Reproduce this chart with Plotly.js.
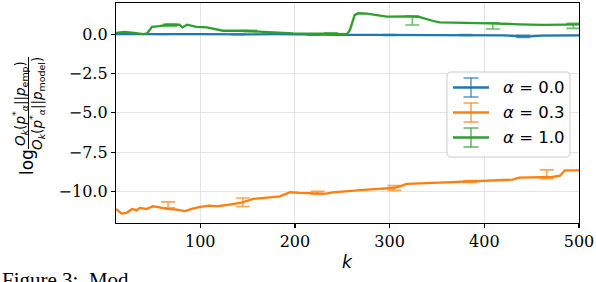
<!DOCTYPE html>
<html>
<head>
<meta charset="utf-8">
<script src="https://cdn.plot.ly/plotly-3.0.1.min.js"></script>
<style>html,body{margin:0;padding:0;background:#fff}#chart{width:596px;height:282px}</style>
</head>
<body>
<div id="chart"></div>
<script>
// ---- data ----
const kBlue = [11, 30, 50, 75, 100, 130, 150, 180, 200, 230, 250, 280, 300, 330, 350, 380, 400, 420, 437, 448, 460, 480, 500];
const blue  = [0.0, 0.01, 0.0, -0.01, -0.01, -0.03, -0.02, -0.01, -0.03, -0.04, -0.05, -0.05, -0.06, -0.05, -0.06, -0.06, -0.07, -0.08, -0.14, -0.15, -0.1, -0.07, -0.08];

const kOrange = [11, 17, 22, 28, 33, 36, 43, 50, 57, 65, 75, 84, 91, 100, 110, 117, 131, 142, 156, 170, 184, 195, 205, 233, 240, 276, 304, 311, 318, 346, 381, 430, 437, 472, 480, 485, 500];
const orange  = [-11.1, -11.39, -11.35, -11.1, -11.18, -11.03, -11.1, -10.93, -11.0, -11.1, -11.14, -11.24, -11.1, -10.97, -10.89, -10.93, -10.82, -10.72, -10.46, -10.40, -10.30, -10.04, -10.08, -10.13, -10.04, -9.87, -9.77, -9.66, -9.51, -9.45, -9.35, -9.24, -9.11, -9.07, -8.99, -8.65, -8.65];

const kGreen = [11, 20, 30, 40, 44, 49, 57, 65, 78, 81, 86, 96, 107, 117, 124, 145, 160, 174, 198, 230, 255, 258, 263, 267, 276, 297, 321, 332, 342, 349, 353, 385, 406, 437, 462, 487, 500];
const green  = [0.08, 0.13, 0.08, 0.0, 0.05, 0.46, 0.5, 0.59, 0.59, 0.42, 0.59, 0.46, 0.42, 0.30, 0.21, 0.21, 0.17, 0.13, 0.04, 0.02, 0.0, 0.25, 1.2, 1.32, 1.3, 1.1, 1.12, 1.08, 0.89, 0.78, 0.74, 0.73, 0.68, 0.62, 0.58, 0.6, 0.62];

// sparse error bars: position, centre, half-width
const errKBlue = [60, 140, 220, 300, 380, 441];
const errYBlue = [0.0, -0.02, -0.04, -0.06, -0.06, -0.15];
const errBlue  = [0.02, 0.02, 0.03, 0.03, 0.03, 0.07];

const errKOrange = [66, 145, 224, 305, 385, 466];
const errYOrange = [-10.84, -10.67, -10.08, -9.77, -9.35, -8.9];
const errOrange  = [0.19, 0.27, 0.1, 0.15, 0.06, 0.28];

const errKGreen = [68, 153, 238, 324, 409, 494];
const errYGreen = [0.56, 0.19, 0.05, 0.86, 0.52, 0.52];
const errGreen  = [0.08, 0.04, 0.03, 0.29, 0.2, 0.16];

const seriesNames = ['<i>α</i> = 0.0', '<i>α</i> = 0.3', '<i>α</i> = 1.0'];
const xTicks = [100, 200, 300, 400, 500];
const yTicks = [0, -2.5, -5, -7.5, -10];

// ---- styling ----
const colors = ['#1f77b4', '#ff7f0e', '#2ca02c'];
const errColors = ['rgba(31,119,180,0.7)', 'rgba(255,127,14,0.7)', 'rgba(44,160,44,0.7)'];
const lineK = [kBlue, kOrange, kGreen];
const lineV = [blue, orange, green];
const eK = [errKBlue, errKOrange, errKGreen];
const eY = [errYBlue, errYOrange, errYGreen];
const eE = [errBlue, errOrange, errGreen];

const traces = [];
for (let i = 0; i < 3; i++) {
  traces.push({
    x: eK[i], y: eY[i], type: 'scatter', mode: 'markers',
    marker: {size: 0.1, color: 'rgba(0,0,0,0)'},
    error_y: {type: 'data', array: eE[i], symmetric: true, color: errColors[i], thickness: 1.6, width: 7},
    showlegend: false, hoverinfo: 'skip'
  });
}
for (let i = 0; i < 3; i++) {
  traces.push({
    x: lineK[i], y: lineV[i], type: 'scatter', mode: 'lines',
    name: seriesNames[i],
    line: {color: colors[i], width: 2.3},
    showlegend: false
  });
}

const serif = 'DejaVu Serif, serif';
const sans = 'DejaVu Sans, sans-serif';

const W = 463, H = 220, L = 116, T = 3;
const px = v => (v - L) / W;
const py = v => 1 - (v - T) / H;

// legend (drawn with shapes + annotations so the error-bar glyph shows)
const legX0 = 447, legX1 = 570, legY0 = 72, legY1 = 157, rad = 4;
const legRows = [87.5, 112.5, 137.5];
function roundRect(x0, y0, x1, y1, r) {
  const X = v => px(v).toFixed(5), Y = v => py(v).toFixed(5);
  return 'M ' + X(x0 + r) + ',' + Y(y0) +
    ' L ' + X(x1 - r) + ',' + Y(y0) +
    ' Q ' + X(x1) + ',' + Y(y0) + ' ' + X(x1) + ',' + Y(y0 + r) +
    ' L ' + X(x1) + ',' + Y(y1 - r) +
    ' Q ' + X(x1) + ',' + Y(y1) + ' ' + X(x1 - r) + ',' + Y(y1) +
    ' L ' + X(x0 + r) + ',' + Y(y1) +
    ' Q ' + X(x0) + ',' + Y(y1) + ' ' + X(x0) + ',' + Y(y1 - r) +
    ' L ' + X(x0) + ',' + Y(y0 + r) +
    ' Q ' + X(x0) + ',' + Y(y0) + ' ' + X(x0 + r) + ',' + Y(y0) + ' Z';
}
const shapes = [
  {type: 'line', xref: 'paper', yref: 'paper', x0: px(28.5), x1: px(28.5), y0: py(57), y1: py(149), line: {color: '#000', width: 1}},
  {type: 'path', xref: 'paper', yref: 'paper', path: roundRect(legX0, legY0, legX1, legY1, rad), fillcolor: 'rgba(255,255,255,0.85)', line: {color: '#cccccc', width: 1}}
];
const annotations = [];
legRows.forEach((yc, i) => {
  shapes.push({type: 'line', xref: 'paper', yref: 'paper', x0: px(453), x1: px(489), y0: py(yc), y1: py(yc), line: {color: colors[i], width: 2.3}});
  shapes.push({type: 'line', xref: 'paper', yref: 'paper', x0: px(471), x1: px(471), y0: py(yc - 9.5), y1: py(yc + 9.5), line: {color: errColors[i], width: 1.6}});
  shapes.push({type: 'line', xref: 'paper', yref: 'paper', x0: px(463.5), x1: px(478.5), y0: py(yc - 9.5), y1: py(yc - 9.5), line: {color: errColors[i], width: 1.6}});
  shapes.push({type: 'line', xref: 'paper', yref: 'paper', x0: px(463.5), x1: px(478.5), y0: py(yc + 9.5), y1: py(yc + 9.5), line: {color: errColors[i], width: 1.6}});
  annotations.push({text: seriesNames[i], xref: 'paper', yref: 'paper', x: px(501), y: py(yc), xanchor: 'left', yanchor: 'middle', showarrow: false, font: {family: sans, size: 16.5, color: '#000'}});
});

annotations.push(
  {text: '<i>k</i>', xref: 'paper', yref: 'paper', x: 0.5, y: py(262), xanchor: 'center', yanchor: 'middle', showarrow: false, font: {family: sans, size: 17, color: '#000'}},
  {text: 'log', xref: 'paper', yref: 'paper', x: px(27), y: py(162), xanchor: 'center', yanchor: 'middle', textangle: -90, showarrow: false, font: {family: sans, size: 17, color: '#000'}},
  {text: '<i>O</i><sub><i>k</i></sub>(<i>p</i><sup>*</sup><sub><i>α</i></sub>||<i>p</i><sub>emp</sub>)', xref: 'paper', yref: 'paper', x: px(20), y: py(104), xanchor: 'center', yanchor: 'middle', textangle: -90, showarrow: false, font: {family: sans, size: 13.5, color: '#000'}},
  {text: '<i>O</i><sub><i>k</i></sub>(<i>p</i><sup>*</sup><sub><i>α</i></sub>||<i>p</i><sub>model</sub>)', xref: 'paper', yref: 'paper', x: px(37), y: py(104), xanchor: 'center', yanchor: 'middle', textangle: -90, showarrow: false, font: {family: sans, size: 13.5, color: '#000'}},
  {text: 'Figure 3:  Mod', xref: 'paper', yref: 'paper', x: px(0), y: py(266), xanchor: 'left', yanchor: 'top', showarrow: false, font: {family: 'Liberation Serif, serif', size: 21, color: '#000'}}
);

const layout = {
  width: 596, height: 282,
  margin: {l: L, r: 17, t: T, b: 59},
  paper_bgcolor: '#fff', plot_bgcolor: '#fff',
  showlegend: false,
  xaxis: {
    range: [11, 500], tickvals: xTicks, ticktext: xTicks.map(String),
    showline: true, linecolor: '#000', linewidth: 1.2, mirror: true,
    ticks: 'outside', ticklen: 4, tickwidth: 1.1, tickcolor: '#000',
    showgrid: true, gridcolor: '#dddddd', gridwidth: 0.8, zeroline: false,
    tickfont: {family: serif, size: 16, color: '#000'}
  },
  yaxis: {
    range: [-11.99, 1.97], tickvals: yTicks, ticktext: yTicks.map(v => (v < 0 ? '\u2212' : '') + Math.abs(v).toFixed(1)),
    showline: true, linecolor: '#000', linewidth: 1.2, mirror: true,
    ticks: 'outside', ticklen: 4, tickwidth: 1.1, tickcolor: '#000',
    showgrid: true, gridcolor: '#dddddd', gridwidth: 0.8, zeroline: false,
    tickfont: {family: serif, size: 16, color: '#000'}
  },
  shapes: shapes,
  annotations: annotations
};

Plotly.newPlot('chart', traces, layout, {staticPlot: true, displayModeBar: false});
</script>
</body>
</html>
